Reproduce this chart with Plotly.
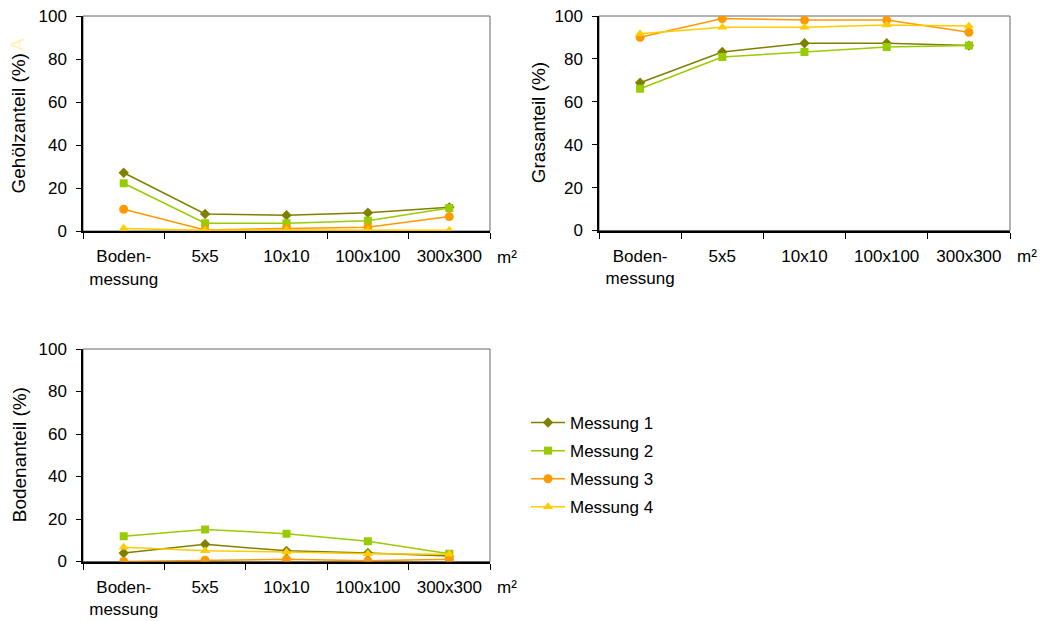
import plotly.graph_objects as go

# Flächengrößen der Aufnahme (Kategorien der x-Achse)
categories = ["Boden-<br>messung", "5x5", "10x10", "100x100", "300x300"]
series_names = ["Messung 1", "Messung 2", "Messung 3", "Messung 4"]

# Gehölzanteil (%)
gehoelz_m1 = [27.1, 7.9, 7.3, 8.5, 11.0]
gehoelz_m2 = [22.2, 3.6, 3.6, 4.8, 10.7]
gehoelz_m3 = [10.1, 0.5, 1.2, 1.7, 6.7]
gehoelz_m4 = [1.2, 0.3, 0.5, 0.5, 0.3]

# Grasanteil (%)
gras_m1 = [68.9, 83.2, 87.3, 87.3, 86.2]
gras_m2 = [66.1, 80.9, 83.2, 85.6, 86.2]
gras_m3 = [90.1, 98.8, 98.1, 98.1, 92.4]
gras_m4 = [91.7, 94.7, 94.7, 95.8, 95.3]

# Bodenanteil (%)
boden_m1 = [4.0, 8.1, 5.0, 4.0, 2.6]
boden_m2 = [11.9, 15.1, 13.1, 9.5, 3.7]
boden_m3 = [0.0, 0.6, 1.0, 0.3, 1.0]
boden_m4 = [6.7, 5.0, 4.5, 3.7, 3.4]

y_ticks = [0, 20, 40, 60, 80, 100]

colors = ["#808000", "#99CC00", "#FF9900", "#FFCC00"]
symbols = ["diamond", "square", "circle", "triangle-up"]
sizes = [8, 8, 9, 9]

W, H = 1041, 621
FONT = "Liberation Sans, Arial, sans-serif"

panels = [
    # (x-Achse, y-Achse, Daten, Titel, x-Pixel [links, rechts], y-Pixel [oben, unten], Titel-x)
    ("x", "y", [gehoelz_m1, gehoelz_m2, gehoelz_m3, gehoelz_m4], "Gehölzanteil (%)", (83, 490), (16, 231), 18),
    ("x2", "y2", [gras_m1, gras_m2, gras_m3, gras_m4], "Grasanteil (%)", (599, 1010), (16, 230.5), 538),
    ("x3", "y3", [boden_m1, boden_m2, boden_m3, boden_m4], "Bodenanteil (%)", (83, 490), (349, 561.5), 19),
]

fig = go.Figure()
annotations = []
shapes = []
layout = {}

for pi, (xa, ya, data, title, (px0, px1), (py0, py1), tx) in enumerate(panels):
    for si, values in enumerate(data):
        fig.add_trace(go.Scatter(
            x=categories, y=values, xaxis=xa, yaxis=ya,
            name=series_names[si], legendgroup=series_names[si],
            showlegend=(pi == 0),
            mode="lines+markers",
            line=dict(color=colors[si], width=1.5),
            marker=dict(color=colors[si], symbol=symbols[si], size=sizes[si], line=dict(width=0)),
        ))
    xkey = "xaxis" + xa[1:]
    ykey = "yaxis" + ya[1:]
    layout[xkey] = dict(
        domain=[px0 / W, px1 / W], anchor=ya, type="category",
        categoryorder="array", categoryarray=categories,
        range=[-0.5, 4.5], tickson="boundaries", ticks="outside", ticklen=6,
        tickcolor="black", tickwidth=1, showline=True, linecolor="black", linewidth=2,
        showgrid=False, zeroline=False, ticklabelstandoff=9, automargin=False,
        tickfont=dict(size=17, color="black", family=FONT),
    )
    layout[ykey] = dict(
        domain=[1 - py1 / H, 1 - py0 / H], anchor=xa,
        range=[0, 100], tickvals=y_ticks, ticktext=[str(v) for v in y_ticks],
        ticks="outside", ticklen=5, tickcolor="black", tickwidth=1,
        showline=True, linecolor="black", linewidth=1.5,
        showgrid=False, zeroline=False, ticklabelstandoff=6, automargin=False,
        tickfont=dict(size=17, color="black", family=FONT),
    )
    # Rahmen der Zeichenfläche
    shapes.append(dict(
        type="rect", xref=xa + " domain", yref=ya + " domain",
        x0=0, x1=1, y0=0, y1=1, line=dict(color="#666666", width=1), layer="below",
    ))
    # y-Achsentitel
    annotations.append(dict(
        text=title, xref="paper", yref="paper", x=tx / W, y=1 - ((py0 + py1) / 2) / H,
        textangle=-90, showarrow=False, xanchor="center", yanchor="middle",
        font=dict(size=19, color="black", family=FONT),
    ))
    # Einheit rechts neben der x-Achse
    annotations.append(dict(
        text="m²", xref="paper", yref="paper", x=(px1 + 5) / W, y=1 - (py1 + 26) / H,
        showarrow=False, xanchor="left", yanchor="middle",
        font=dict(size=17, color="black", family=FONT),
    ))

# kleiner, blasser Buchstabe am Ende des ersten Achsentitels
annotations.append(dict(
    text="A", xref="paper", yref="paper", x=18 / W, y=1 - 45 / H,
    textangle=-90, showarrow=False, xanchor="center", yanchor="middle",
    font=dict(size=19, color="#FFF3B8", family=FONT),
))

fig.update_layout(
    width=W, height=H, margin=dict(l=0, r=0, t=0, b=0, autoexpand=False),
    paper_bgcolor="white", plot_bgcolor="white",
    font=dict(family=FONT, color="black"),
    annotations=annotations, shapes=shapes,
    showlegend=True,
    legend=dict(
        x=526 / W, y=1 - 405 / H, xanchor="left", yanchor="top",
        font=dict(size=17, color="black", family=FONT),
        itemwidth=34, tracegroupgap=3, borderwidth=0, bgcolor="rgba(0,0,0,0)",
        traceorder="grouped",
    ),
    **layout,
)

fig.write_html("out.html")
